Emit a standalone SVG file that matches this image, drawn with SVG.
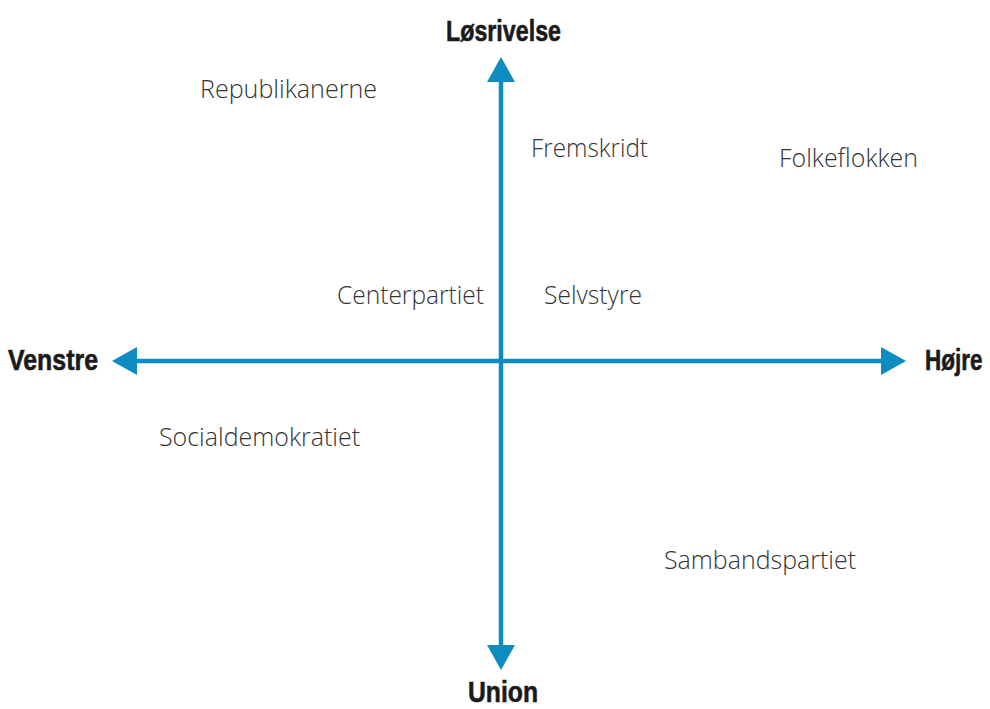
<svg xmlns="http://www.w3.org/2000/svg" width="990" height="709" viewBox="0 0 990 709">
<style>
.axis{font-family:"Liberation Sans",Arial,sans-serif;font-weight:bold;font-size:30px;fill:#1a1a1a;stroke:#1a1a1a;stroke-width:0.6}
.party{font-family:"Open Sans","Lato",sans-serif;font-weight:300;font-size:25px;fill:#333}
.ln{stroke:#0e8cc0;stroke-width:4.5;fill:none}
.hd{fill:#0e8cc0}
</style>
<rect width="990" height="709" fill="#fff"/>
<g id="connectors">
<line class="ln" x1="501" y1="78" x2="501" y2="650"/>
<line class="ln" x1="130" y1="361" x2="888" y2="361"/>
<polygon class="hd" points="501,57 515,82 487,82"/>
<polygon class="hd" points="501,670 515,645 487,645"/>
<polygon class="hd" points="112,361 137,347 137,375"/>
<polygon class="hd" points="906,361 881,347 881,375"/>
</g>
<g id="losrivelse"><text class="axis" x="446" y="41" textLength="115" lengthAdjust="spacingAndGlyphs">Løsrivelse</text></g>
<g id="union"><text class="axis" x="468" y="702" textLength="70" lengthAdjust="spacingAndGlyphs">Union</text></g>
<g id="venstre"><text class="axis" x="8" y="370" textLength="90" lengthAdjust="spacingAndGlyphs">Venstre</text></g>
<g id="hojre"><text class="axis" transform="translate(925,370) scale(0.75,1)" x="0" y="0">Højre</text></g>
<g id="republikanerne"><text class="party" x="200" y="98" textLength="177" lengthAdjust="spacingAndGlyphs">Republikanerne</text></g>
<g id="fremskridt"><text class="party" x="531" y="157" textLength="117" lengthAdjust="spacingAndGlyphs">Fremskridt</text></g>
<g id="folkeflokken"><text class="party" x="779" y="167" textLength="139" lengthAdjust="spacingAndGlyphs">Folkeflokken</text></g>
<g id="centerpartiet"><text class="party" x="337" y="304" textLength="147" lengthAdjust="spacingAndGlyphs">Centerpartiet</text></g>
<g id="selvstyre"><text class="party" x="544" y="304" textLength="98" lengthAdjust="spacingAndGlyphs">Selvstyre</text></g>
<g id="socialdemokratiet"><text class="party" x="159" y="446" textLength="201" lengthAdjust="spacingAndGlyphs">Socialdemokratiet</text></g>
<g id="sambandspartiet"><text class="party" x="664" y="569" textLength="192" lengthAdjust="spacingAndGlyphs">Sambandspartiet</text></g>
</svg>
